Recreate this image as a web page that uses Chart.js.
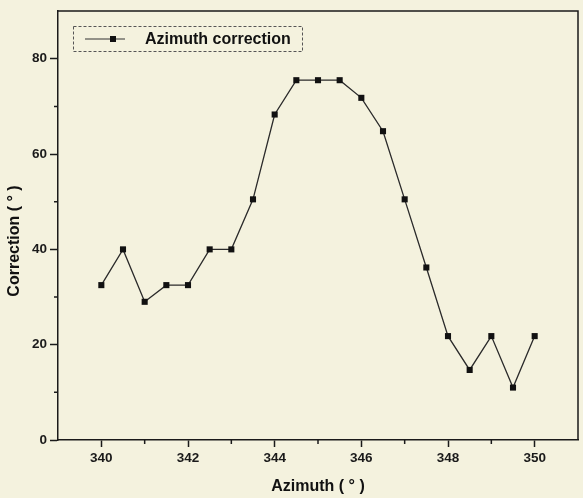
<!DOCTYPE html>
<html>
<head>
<meta charset="utf-8">
<script src="https://cdn.jsdelivr.net/npm/chart.js@4/dist/chart.umd.min.js"></script>
<style>
  html, body { margin: 0; padding: 0; background: #f4f2de; }
  #wrap { width: 583px; height: 498px; position: relative; }
</style>
</head>
<body>
<div id="wrap"><canvas id="grafico"></canvas></div>
<script>
// azimute (graus) x correção medida
const azimute = [340, 340.5, 341, 341.5, 342, 342.5, 343, 343.5, 344, 344.5, 345,
  345.5, 346, 346.5, 347, 347.5, 348, 348.5, 349, 349.5, 350];
const correcao = [32.5, 40, 29, 32.5, 32.5, 40, 40, 50.5, 68.3, 75.5, 75.5,
  75.5, 71.8, 64.8, 50.5, 36.2, 21.8, 14.7, 21.8, 11, 21.8];
const rotuloSerie = 'Azimuth correction';
const ticksX = [340, 342, 344, 346, 348, 350];
const ticksXMenores = [341, 343, 345, 347, 349];
const ticksY = [0, 20, 40, 60, 80];
const ticksYMenores = [10, 30, 50, 70];

const TINTA = '#1a1a1a';
const FAMILIA = 'Liberation Sans, Arial, sans-serif';
const fonte = { family: FAMILIA, size: 13.5, weight: 'bold' };

// moldura, ticks menores, legenda e títulos dos eixos
const extras = {
  id: 'extras',
  afterDraw(ch) {
    const { ctx, chartArea: a, scales: { x, y } } = ch;
    ctx.save();
    ctx.strokeStyle = TINTA;
    ctx.lineWidth = 1.5;
    ctx.beginPath();
    ctx.moveTo(a.left, a.top); ctx.lineTo(a.right, a.top); ctx.lineTo(a.right, a.bottom);
    ctx.stroke();

    ctx.lineWidth = 1.5;
    ctx.beginPath();
    ticksXMenores.forEach(v => { const px = x.getPixelForValue(v); ctx.moveTo(px, a.bottom); ctx.lineTo(px, a.bottom + 4); });
    ticksYMenores.forEach(v => { const py = y.getPixelForValue(v); ctx.moveTo(a.left, py); ctx.lineTo(a.left - 4, py); });
    ctx.stroke();

    // legenda com borda tracejada
    ctx.setLineDash([3, 2]);
    ctx.lineWidth = 1;
    ctx.strokeStyle = '#555';
    ctx.strokeRect(73.5, 26.5, 229, 25);
    ctx.setLineDash([]);
    ctx.strokeStyle = '#333';
    ctx.lineWidth = 1.2;
    ctx.beginPath(); ctx.moveTo(85, 39); ctx.lineTo(125, 39); ctx.stroke();
    ctx.fillStyle = '#111';
    ctx.fillRect(110, 36, 6, 6);
    ctx.font = `bold 16px ${FAMILIA}`;
    ctx.textBaseline = 'middle';
    ctx.textAlign = 'left';
    ctx.fillText(rotuloSerie, 145, 40);

    // títulos
    ctx.font = `bold 16px ${FAMILIA}`;
    ctx.textAlign = 'center';
    ctx.fillText('Azimuth ( ° )', (a.left + a.right) / 2, 487);
    ctx.translate(15, 241);
    ctx.rotate(-Math.PI / 2);
    ctx.fillText('Correction ( ° )', 0, 0);
    ctx.restore();
  }
};

new Chart(document.getElementById('grafico'), {
  type: 'line',
  data: {
    datasets: [{
      label: rotuloSerie,
      data: azimute.map((v, i) => ({ x: v, y: correcao[i] })),
      borderColor: '#2a2a2a',
      borderWidth: 1.3,
      pointStyle: 'rect',
      pointRadius: 4.3,
      pointBackgroundColor: '#111',
      pointBorderWidth: 0,
      tension: 0,
    }],
  },
  options: {
    responsive: true, maintainAspectRatio: false, animation: false,
    layout: { padding: { top: 11, right: 5, left: 0, bottom: 0 } },
    plugins: { legend: { display: false }, tooltip: { enabled: false } },
    scales: {
      x: {
        type: 'linear', min: 339, max: 351,
        afterBuildTicks: s => { s.ticks = ticksX.map(v => ({ value: v })); },
        afterFit: s => { s.height = 58; },
        grid: { drawOnChartArea: false, tickLength: 7, tickWidth: 1.5, tickColor: TINTA },
        border: { color: TINTA, width: 1.5 },
        ticks: { color: TINTA, font: fonte, padding: 3, maxRotation: 0 },
      },
      y: {
        min: 0, max: 90,
        afterBuildTicks: s => { s.ticks = ticksY.map(v => ({ value: v })); },
        afterFit: s => { s.width = 58; },
        grid: { drawOnChartArea: false, tickLength: 8, tickWidth: 1.5, tickColor: TINTA },
        border: { color: TINTA, width: 1.5 },
        ticks: { color: TINTA, font: fonte, padding: 3 },
      },
    },
  },
  plugins: [extras],
});
</script>
</body>
</html>
